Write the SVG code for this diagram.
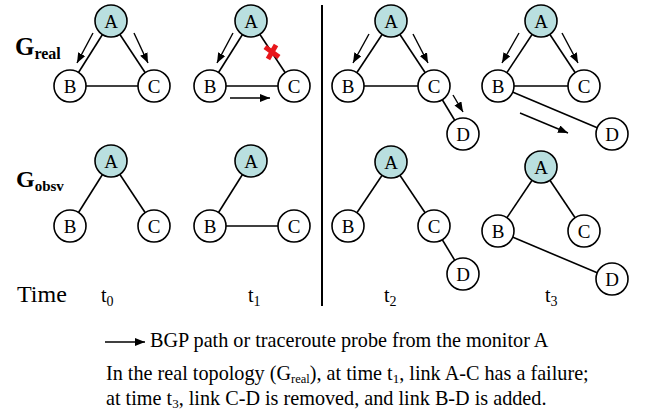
<svg xmlns="http://www.w3.org/2000/svg" width="651" height="412" viewBox="0 0 651 412">
<style>
.n circle{fill:#fff;stroke:#000;stroke-width:1.6}
.n.a circle{fill:#b9dfdf}
.n text{font-family:"Liberation Serif","Times New Roman","DejaVu Serif",serif;font-size:19px;text-anchor:middle;fill:#000}
.e line{stroke:#000;stroke-width:1.6}
.p line{stroke:#000;stroke-width:1.4;marker-end:url(#ah)}
.t{font-family:"Liberation Serif","Times New Roman","DejaVu Serif",serif;fill:#000}
.g{font-family:"Liberation Serif","Times New Roman","DejaVu Serif",serif;font-weight:bold;fill:#000}
</style>
<defs>
<marker id="ah" markerUnits="userSpaceOnUse" markerWidth="11" markerHeight="9" refX="10" refY="4" orient="auto">
<path d="M0,0 L10,4 L0,8 z" fill="#000"/>
</marker>
</defs>
<rect width="651" height="412" fill="#fff"/>
<line x1="322" y1="5" x2="322" y2="306" stroke="#000" stroke-width="2"/>
<g id="labels">
<text class="g" x="15" y="55" font-size="25">G<tspan font-size="16" dy="4">real</tspan></text>
<text class="g" x="16" y="187" font-size="24">G<tspan font-size="15" dy="4">obsv</tspan></text>
<text class="t" x="17" y="302" font-size="24">Time</text>
<text class="t" x="101" y="302" font-size="20">t<tspan font-size="14" dy="4">0</tspan></text>
<text class="t" x="248" y="302" font-size="20">t<tspan font-size="14" dy="4">1</tspan></text>
<text class="t" x="384" y="302" font-size="20">t<tspan font-size="14" dy="4">2</tspan></text>
<text class="t" x="545" y="302" font-size="20">t<tspan font-size="14" dy="4">3</tspan></text>
</g>
<g id="connectors">
<g class="e">
<line x1="111" y1="21" x2="70" y2="86"/><line x1="111" y1="21" x2="154" y2="86"/><line x1="70" y1="86" x2="154" y2="86"/>
<line x1="251" y1="21" x2="210" y2="86"/><line x1="251" y1="21" x2="294" y2="86"/><line x1="210" y1="86" x2="294" y2="86"/>
<line x1="391" y1="21" x2="348" y2="86"/><line x1="391" y1="21" x2="434" y2="86"/><line x1="348" y1="86" x2="434" y2="86"/><line x1="434" y1="86" x2="463" y2="134"/>
<line x1="541" y1="21" x2="498" y2="86"/><line x1="541" y1="21" x2="584" y2="86"/><line x1="498" y1="86" x2="584" y2="86"/><line x1="498" y1="86" x2="612" y2="134"/>
<line x1="111" y1="161" x2="70" y2="226"/><line x1="111" y1="161" x2="154" y2="226"/>
<line x1="251" y1="161" x2="210" y2="226"/><line x1="210" y1="226" x2="294" y2="226"/>
<line x1="391" y1="162" x2="348" y2="226"/><line x1="391" y1="162" x2="434" y2="226"/><line x1="434" y1="226" x2="463" y2="274"/>
<line x1="541" y1="167" x2="498" y2="231"/><line x1="541" y1="167" x2="584" y2="231"/><line x1="498" y1="231" x2="612" y2="279"/>
</g>
<g class="p">
<line x1="93" y1="33" x2="77" y2="63"/><line x1="134" y1="33" x2="148" y2="63"/>
<line x1="233" y1="33" x2="217" y2="63"/><line x1="230" y1="98" x2="270" y2="98"/>
<line x1="369" y1="34" x2="353" y2="63"/><line x1="413" y1="34" x2="428" y2="63"/><line x1="453" y1="95" x2="463" y2="112"/>
<line x1="519" y1="33" x2="502" y2="63"/><line x1="562" y1="33" x2="578" y2="63"/><line x1="520" y1="113" x2="568" y2="133"/>
<line x1="105" y1="342" x2="145" y2="342"/>
</g>
<g id="failure" stroke="#e8161b" stroke-width="5" stroke-linecap="butt">
<line x1="265" y1="47" x2="279" y2="57"/><line x1="268" y1="59" x2="276" y2="45"/>
</g>
</g>
<g id="t0-real-A" class="n a"><circle cx="111" cy="21" r="16"/><text x="111" y="28">A</text></g>
<g id="t0-real-B" class="n"><circle cx="70" cy="86" r="16"/><text x="70" y="93">B</text></g>
<g id="t0-real-C" class="n"><circle cx="154" cy="86" r="16"/><text x="154" y="93">C</text></g>
<g id="t1-real-A" class="n a"><circle cx="251" cy="21" r="16"/><text x="251" y="28">A</text></g>
<g id="t1-real-B" class="n"><circle cx="210" cy="86" r="16"/><text x="210" y="93">B</text></g>
<g id="t1-real-C" class="n"><circle cx="294" cy="86" r="16"/><text x="294" y="93">C</text></g>
<g id="t2-real-A" class="n a"><circle cx="391" cy="21" r="16"/><text x="391" y="28">A</text></g>
<g id="t2-real-B" class="n"><circle cx="348" cy="86" r="16"/><text x="348" y="93">B</text></g>
<g id="t2-real-C" class="n"><circle cx="434" cy="86" r="16"/><text x="434" y="93">C</text></g>
<g id="t2-real-D" class="n"><circle cx="463" cy="134" r="16"/><text x="463" y="141">D</text></g>
<g id="t3-real-A" class="n a"><circle cx="541" cy="21" r="16"/><text x="541" y="28">A</text></g>
<g id="t3-real-B" class="n"><circle cx="498" cy="86" r="16"/><text x="498" y="93">B</text></g>
<g id="t3-real-C" class="n"><circle cx="584" cy="86" r="16"/><text x="584" y="93">C</text></g>
<g id="t3-real-D" class="n"><circle cx="612" cy="134" r="16"/><text x="612" y="141">D</text></g>
<g id="t0-obsv-A" class="n a"><circle cx="111" cy="161" r="16"/><text x="111" y="168">A</text></g>
<g id="t0-obsv-B" class="n"><circle cx="70" cy="226" r="16"/><text x="70" y="233">B</text></g>
<g id="t0-obsv-C" class="n"><circle cx="154" cy="226" r="16"/><text x="154" y="233">C</text></g>
<g id="t1-obsv-A" class="n a"><circle cx="251" cy="161" r="16"/><text x="251" y="168">A</text></g>
<g id="t1-obsv-B" class="n"><circle cx="210" cy="226" r="16"/><text x="210" y="233">B</text></g>
<g id="t1-obsv-C" class="n"><circle cx="294" cy="226" r="16"/><text x="294" y="233">C</text></g>
<g id="t2-obsv-A" class="n a"><circle cx="391" cy="162" r="16"/><text x="391" y="169">A</text></g>
<g id="t2-obsv-B" class="n"><circle cx="348" cy="226" r="16"/><text x="348" y="233">B</text></g>
<g id="t2-obsv-C" class="n"><circle cx="434" cy="226" r="16"/><text x="434" y="233">C</text></g>
<g id="t2-obsv-D" class="n"><circle cx="463" cy="274" r="16"/><text x="463" y="281">D</text></g>
<g id="t3-obsv-A" class="n a"><circle cx="541" cy="167" r="16"/><text x="541" y="174">A</text></g>
<g id="t3-obsv-B" class="n"><circle cx="498" cy="231" r="16"/><text x="498" y="238">B</text></g>
<g id="t3-obsv-C" class="n"><circle cx="584" cy="231" r="16"/><text x="584" y="238">C</text></g>
<g id="t3-obsv-D" class="n"><circle cx="612" cy="279" r="16"/><text x="612" y="286">D</text></g>
<g id="caption">
<text class="t" x="150" y="347" font-size="20.2">BGP path or traceroute probe from the monitor A</text>
<text class="t" x="106" y="380" font-size="20.2">In the real topology (G<tspan font-size="12.5" dy="3">real</tspan><tspan dy="-3">), at time t</tspan><tspan font-size="13" dy="3">1</tspan><tspan dy="-3">, link A-C has a failure;</tspan></text>
<text class="t" x="106" y="405" font-size="20.2">at time t<tspan font-size="13" dy="3">3</tspan><tspan dy="-3">, link C-D is removed, and link B-D is added.</tspan></text>
</g>
</svg>
